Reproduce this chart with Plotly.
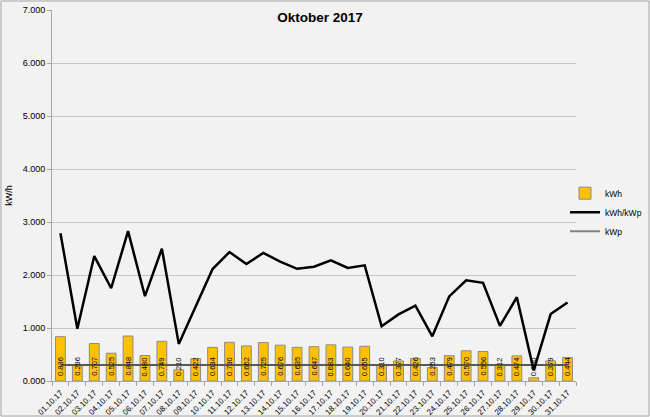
import plotly.graph_objects as go

dates = ["01.10.17","02.10.17","03.10.17","04.10.17","05.10.17","06.10.17","07.10.17","08.10.17",
         "09.10.17","10.10.17","11.10.17","12.10.17","13.10.17","14.10.17","15.10.17","16.10.17",
         "17.10.17","18.10.17","19.10.17","20.10.17","21.10.17","22.10.17","23.10.17","24.10.17",
         "25.10.17","26.10.17","27.10.17","28.10.17","29.10.17","30.10.17","31.10.17"]
kwh = [0.836,0.296,0.707,0.525,0.848,0.480,0.749,0.210,0.422,0.634,0.730,0.662,0.725,0.676,0.635,0.647,
       0.683,0.640,0.655,0.310,0.377,0.426,0.253,0.479,0.570,0.556,0.312,0.474,0.060,0.379,0.444]
kwh_kwp = [2.787,0.987,2.357,1.750,2.827,1.600,2.497,0.700,1.407,2.113,2.433,2.207,2.417,2.253,2.117,2.157,
           2.277,2.133,2.183,1.033,1.257,1.420,0.843,1.597,1.900,1.853,1.040,1.580,0.200,1.263,1.480]
kwp = [0.3]*31

FONT = "Liberation Sans"
W, H = 650, 417
ml, mr, mt, mb = 52, 74, 10, 36
pw, ph = W - ml - mr, H - mt - mb

fig = go.Figure()
fig.add_trace(go.Bar(
    x=dates, y=kwh, name="kWh",
    marker=dict(color="#FFC000", line=dict(color="#8c8c8c", width=1)),
))
fig.add_trace(go.Scatter(x=dates, y=kwp, name="kWp", mode="lines", showlegend=False,
                         line=dict(color="#595959", width=2)))
fig.add_trace(go.Scatter(x=dates, y=kwh_kwp, name="kWh/kWp", mode="lines",
                         line=dict(color="#000000", width=2.5)))
fig.add_trace(go.Scatter(x=[None], y=[None], name="kWp", mode="lines",
                         line=dict(color="#808080", width=2)))

annotations = [dict(x=d, y=0, xref="x", yref="y", text=f"{v:.3f}", showarrow=False,
                    textangle=-90, yanchor="bottom", xanchor="center", yshift=3,
                    font=dict(size=7.5, color="#000000", family=FONT))
               for d, v in zip(dates, kwh)]

fig.update_layout(
    width=W, height=H,
    margin=dict(l=ml, r=mr, t=mt, b=mb, autoexpand=False),
    paper_bgcolor="#f2f2f2", plot_bgcolor="#f2f2f2",
    font=dict(family=FONT, size=9, color="#404040"),
    title=dict(text="<b>Oktober 2017</b>", x=320/W, xanchor="center", y=1-17/H, yanchor="middle",
               font=dict(size=13.5, color="#000000", family=FONT), automargin=False),
    bargap=0.42,
    showlegend=True,
    legend=dict(x=(565-ml)/pw, y=0.455, xanchor="left", yanchor="middle", bgcolor="rgba(0,0,0,0)",
                font=dict(size=8.5, color="#000000", family=FONT), tracegroupgap=0, itemwidth=30,
                traceorder="normal"),
    xaxis=dict(type="category", tickangle=-45, tickfont=dict(size=8, color="#000000"),
               showline=True, linecolor="#a6a6a6", ticks="outside", ticklen=4, tickcolor="#a6a6a6",
               tickson="boundaries", showgrid=False, automargin=False, ticklabelstandoff=3),
    yaxis=dict(range=[0, 7], dtick=1, tickformat=",.3f", showgrid=True, gridcolor="#c8c8c8",
               showline=True, linecolor="#a6a6a6", ticks="outside", ticklen=4, tickcolor="#a6a6a6",
               zeroline=False, tickfont=dict(size=9, color="#000000"), automargin=False,
               title=dict(text="kW/h", font=dict(size=9, color="#000000"), standoff=8)),
    separators=".,",
    annotations=annotations,
    shapes=[dict(type="rect", xref="paper", yref="paper",
                 x0=-(ml-1)/pw, x1=1+(mr-1)/pw, y0=-(mb-1)/ph, y1=1+(mt-1)/ph,
                 line=dict(color="#a6a6a6", width=1), layer="below")],
)
fig.write_html("out.html", config={"displayModeBar": False},
               post_script="document.body.style.margin='0';document.body.style.padding='0';")
